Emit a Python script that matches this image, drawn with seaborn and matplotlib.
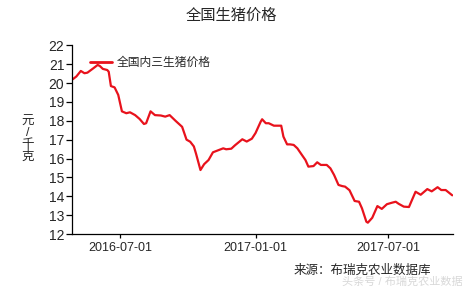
import matplotlib
matplotlib.use("Agg")
import matplotlib.pyplot as plt
import matplotlib.dates as mdates
import pandas as pd
import seaborn as sns

title = "全国生猪价格"
series_name = "全国内三生猪价格"
y_label = "元\n/\n千\n克"
source_note = "来源：布瑞克农业数据库"
watermark = "头条号 / 布瑞克农业数据"

dates = [
    "2016-04-27", "2016-05-02", "2016-05-08", "2016-05-13", "2016-05-17", "2016-05-25",
    "2016-05-31", "2016-06-03", "2016-06-07", "2016-06-13", "2016-06-15", "2016-06-18",
    "2016-06-23", "2016-06-28", "2016-07-03", "2016-07-09", "2016-07-14", "2016-07-21",
    "2016-07-27", "2016-08-02", "2016-08-05", "2016-08-11", "2016-08-17", "2016-08-25",
    "2016-08-31", "2016-09-06", "2016-09-14", "2016-09-23", "2016-09-29", "2016-10-04",
    "2016-10-09", "2016-10-12", "2016-10-18", "2016-10-23", "2016-10-29", "2016-11-04",
    "2016-11-12", "2016-11-18", "2016-11-22", "2016-11-29", "2016-12-04", "2016-12-14",
    "2016-12-20", "2016-12-27", "2017-01-01", "2017-01-08", "2017-01-10", "2017-01-15",
    "2017-01-19", "2017-01-26", "2017-02-05", "2017-02-08", "2017-02-13", "2017-02-17",
    "2017-02-22", "2017-02-27", "2017-03-05", "2017-03-10", "2017-03-14", "2017-03-21",
    "2017-03-26", "2017-03-31", "2017-04-08", "2017-04-13", "2017-04-18", "2017-04-24",
    "2017-04-29", "2017-05-03", "2017-05-09", "2017-05-16", "2017-05-22", "2017-05-26",
    "2017-06-01", "2017-06-03", "2017-06-09", "2017-06-16", "2017-06-22", "2017-06-29",
    "2017-07-06", "2017-07-11", "2017-07-15", "2017-07-22", "2017-07-29", "2017-08-07",
    "2017-08-14", "2017-08-23", "2017-08-29", "2017-09-06", "2017-09-11", "2017-09-17",
    "2017-09-26",
]
prices = [
    20.20, 20.35, 20.64, 20.52, 20.55, 20.78,
    20.96, 20.90, 20.75, 20.69, 20.60, 19.84,
    19.77, 19.37, 18.50, 18.40, 18.45, 18.30,
    18.10, 17.83, 17.87, 18.50, 18.30, 18.28,
    18.22, 18.30, 18.00, 17.68, 17.00, 16.89,
    16.64, 16.25, 15.39, 15.70, 15.92, 16.33,
    16.45, 16.54, 16.49, 16.52, 16.70, 17.02,
    16.90, 17.05, 17.35, 17.95, 18.08, 17.87,
    17.87, 17.74, 17.74, 17.16, 16.75, 16.75,
    16.72, 16.54, 16.20, 15.92, 15.57, 15.60,
    15.80, 15.66, 15.66, 15.48, 15.13, 14.60,
    14.54, 14.51, 14.32, 13.75, 13.71, 13.36,
    12.65, 12.60, 12.86, 13.48, 13.33, 13.58,
    13.66, 13.71, 13.60, 13.45, 13.43, 14.24,
    14.08, 14.38, 14.26, 14.48, 14.33, 14.33,
    14.05,
]
y_ticks = list(range(12, 23))
x_tick_dates = ["2016-07-01", "2017-01-01", "2017-07-01"]

sns.set_style("white")
plt.rcParams["font.family"] = ["Liberation Sans", "Noto Sans CJK SC", "DejaVu Sans"]

df = pd.DataFrame({"date": pd.to_datetime(dates), "price": prices})

fig = plt.figure(figsize=(4.68, 2.90), dpi=100)
ax = fig.add_axes([72 / 468, 1 - 234 / 290, (453 - 72) / 468, (234 - 45.3) / 290])

sns.lineplot(data=df, x="date", y="price", color="#e8121c", linewidth=1.6,
             label=series_name, ax=ax)

ax.set_xlim(pd.Timestamp("2016-04-26"), pd.Timestamp("2017-09-27"))
ax.set_ylim(12, 22)
ax.set_yticks(y_ticks)
ax.set_xticks(pd.to_datetime(x_tick_dates))
ax.xaxis.set_major_formatter(mdates.DateFormatter("%Y-%m-%d"))
ax.set_xlabel("")
ax.set_ylabel("")

for s in ["top", "right"]:
    ax.spines[s].set_visible(False)
for s in ["left", "bottom"]:
    ax.spines[s].set_color("black")
    ax.spines[s].set_linewidth(0.9)

ax.tick_params(axis="y", direction="out", length=4, width=0.9, pad=1.5,
               labelsize=10, color="black", left=True)
ax.tick_params(axis="x", direction="out", length=3, width=0.9, pad=3,
               labelsize=9, color="black", bottom=True)

leg = ax.legend(loc="center left", bbox_to_anchor=(0.047, 0.905), frameon=False,
                fontsize=8.5, handlelength=1.85, handletextpad=0.45,
                borderpad=0, borderaxespad=0)
for line in leg.get_lines():
    line.set_linewidth(2.0)

fig.text(231 / 468, 1 - 16 / 290, title, ha="center", va="center", fontsize=11)
fig.text(27.5 / 468, 1 - 139 / 290, y_label, ha="center", va="center",
         fontsize=9, linespacing=0.95)
fig.text(362 / 468, 1 - 271 / 290, source_note, ha="center", va="center", fontsize=9)
fig.text(402 / 468, 1 - 282 / 290, watermark, ha="center", va="center",
         fontsize=8, color="#d8d8d8")

fig.savefig("out.png", dpi=100)
